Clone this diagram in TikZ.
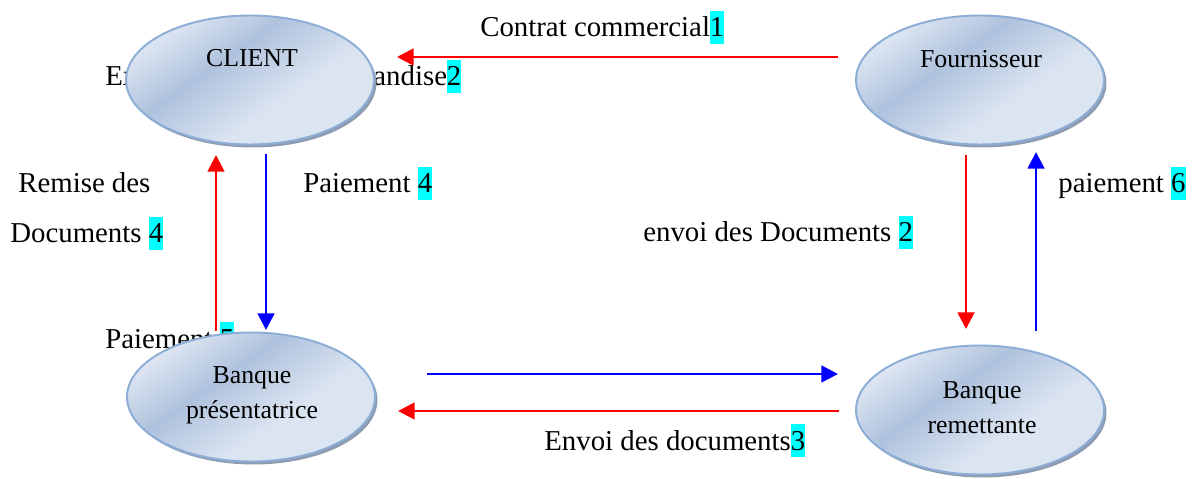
\documentclass[tikz,border=0pt]{standalone}
\usepackage{fontspec}
\setmainfont{Liberation Serif}
\usetikzlibrary{shapes.geometric,arrows.meta,shadows}

\definecolor{ellLight}{HTML}{DBE4F1}
\definecolor{ellMid}{HTML}{CAD7EA}
\definecolor{ellDark}{HTML}{AFC2DD}
\definecolor{ellBorder}{HTML}{8CADD6}
\definecolor{ellShadow}{HTML}{8E9CB2}
\definecolor{markcyan}{RGB}{0,255,255}

% soft diagonal band of the actor ellipses
\pgfdeclarehorizontalshading{subtleband}{100bp}{%
  color(0bp)=(ellLight); color(26bp)=(ellLight); color(41bp)=(ellDark);
  color(60bp)=(ellLight); color(82bp)=(ellLight); color(100bp)=(ellMid)}

% step numbers on a cyan marker
\newcommand\stepnum[1]{{\setlength{\fboxsep}{0pt}\colorbox{markcyan}{\rule[-4pt]{0pt}{18.7pt}#1}}}

\tikzset{
  actor/.style={ellipse, inner sep=0pt, minimum width=4.96cm, minimum height=2.58cm,
    draw=ellBorder, line width=1.1pt, shading=subtleband, shading angle=-55,
    drop shadow={shadow xshift=0.05cm, shadow yshift=-0.06cm, fill=ellShadow, opacity=1}},
  actortext/.style={anchor=base, inner sep=0pt, font=\fontsize{14.7pt}{17.6pt}\selectfont},
  lbl/.style={anchor=base west, inner sep=0pt, font=\fontsize{16.4pt}{19.7pt}\selectfont},
  flow/.style={line width=1.6pt, -{Triangle[length=9.5pt,width=9.5pt]}},
  docflow/.style={flow, red},
  payflow/.style={flow, blue}
}

\begin{document}
\begin{tikzpicture}[x=0.02cm, y=-0.02cm]
\useasboundingbox (0,0) rectangle (1192,479);

% labels partly hidden behind the ellipses
\node[lbl] (lexp) at (105,86) {Expédition de la marchandise\stepnum{2}};
\node[lbl] (lpay5) at (105,348) {Paiement \stepnum{5}};

% actors
\node[actor] (client) at (250,80) {};
\node[actor] (fourn) at (980,80) {};
\node[actor] (bpres) at (251,397) {};
\node[actor] (bremet) at (980,410) {};

\node[actortext] (tclient) at (252,67) {CLIENT};
\node[actortext] (tfourn) at (981,68) {Fournisseur};
\node[actortext] (tbpres1) at (252,383) {Banque};
\node[actortext] (tbpres2) at (252,418) {présentatrice};
\node[actortext] (tbremet1) at (982,398) {Banque};
\node[actortext] (tbremet2) at (982,433) {remettante};

% connector end points
\coordinate (c1a) at (838,57);   \coordinate (c1b) at (397,57);
\coordinate (c2a) at (216,331);  \coordinate (c2b) at (216,155);
\coordinate (c3a) at (266,154);  \coordinate (c3b) at (266,330);
\coordinate (c4a) at (966,155);  \coordinate (c4b) at (966,329);
\coordinate (c5a) at (1036,331); \coordinate (c5b) at (1036,152);
\coordinate (c6a) at (427,374);  \coordinate (c6b) at (838,374);
\coordinate (c7a) at (839,411);  \coordinate (c7b) at (398,411);

\draw[docflow] (c1a) -- (c1b);
\draw[docflow] (c2a) -- (c2b);
\draw[payflow] (c3a) -- (c3b);
\draw[docflow] (c4a) -- (c4b);
\draw[payflow] (c5a) -- (c5b);
\draw[payflow] (c6a) -- (c6b);
\draw[docflow] (c7a) -- (c7b);

% flow labels
\node[lbl] (lcontrat) at (480,37) {Contrat commercial\stepnum{1}};
\node[lbl] (lremise1) at (18,193) {Remise des};
\node[lbl] (lremise2) at (10,243) {Documents \stepnum{4}};
\node[lbl] (lpay4) at (303,193) {Paiement \stepnum{4}};
\node[lbl] (lenvoi2) at (643,242) {envoi des Documents \stepnum{2}};
\node[lbl] (lpay6) at (1058,193) {paiement \stepnum{6}};
\node[lbl] (lenvoi3) at (544,450) {Envoi des documents\stepnum{3}};
\end{tikzpicture}
\end{document}
